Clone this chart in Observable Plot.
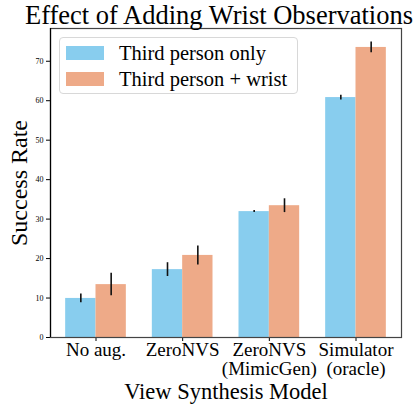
<!DOCTYPE html>
<html>
<head>
<meta charset="utf-8">
<script src="https://cdn.jsdelivr.net/npm/d3@7"></script>
<script src="https://cdn.jsdelivr.net/npm/@observablehq/plot@0.6"></script>
<style>
  body { margin: 0; background: #fff; font-family: "Liberation Serif", serif; }
  #wrap { position: relative; width: 420px; height: 404px; }
  #title { position: absolute; left: 0; top: 0; width: 420px; height: 30px; line-height: 30px; text-align: center; font-size: 26.5px; color: #000; padding-left: 18px; box-sizing: border-box; white-space: nowrap; }
  #legend { position: absolute; left: 59px; top: 37px; width: 239px; height: 57px; border: 1px solid #d8d8d8; border-radius: 4px; background: rgba(255,255,255,0.85); box-sizing: border-box; }
  .item { position: absolute; left: 6px; height: 16px; display: flex; align-items: center; }
  .sw { width: 38px; height: 14px; margin-right: 15px; }
  .lab { font-size: 20.5px; white-space: nowrap; }
</style>
</head>
<body>
<div id="wrap">
  <div id="chart"></div>
  <div id="title">Effect of Adding Wrist Observations</div>
  <div id="legend"></div>
</div>
<script>
const categories = ["No aug.", "ZeroNVS", "ZeroNVS\n(MimicGen)", "Simulator\n(oracle)"];
const series = ["Third person only", "Third person + wrist"];
const colors = ["#88CDEE", "#EEAA88"];
const thirdPerson = [9.9, 17.2, 31.9, 60.8];
const thirdPersonErr = [1.1, 1.75, 0.25, 0.6];
const withWrist = [13.4, 20.8, 33.4, 73.5];
const withWristErr = [2.85, 2.4, 1.75, 1.35];
const yTicks = [0, 10, 20, 30, 40, 50, 60, 70];

const barW = 0.35;
const data = [];
categories.forEach((c, i) => {
  data.push({i, s: 0, series: series[0], v: thirdPerson[i], e: thirdPersonErr[i]});
  data.push({i, s: 1, series: series[1], v: withWrist[i], e: withWristErr[i]});
});
data.forEach(d => {
  d.x1 = d.i + (d.s === 0 ? -barW : 0);
  d.x2 = d.i + (d.s === 0 ? 0 : barW);
  d.xm = (d.x1 + d.x2) / 2;
  d.lo = d.v - d.e;
  d.hi = d.v + d.e;
});

const plot = Plot.plot({
  width: 420,
  height: 404,
  marginLeft: 50,
  marginRight: 19,
  marginTop: 28,
  marginBottom: 67,
  style: { fontFamily: "Liberation Serif, serif", background: "#fff", color: "#000" },
  x: { type: "linear", domain: [-0.525, 3.525] },
  y: { domain: [0, 78.3] },
  color: { domain: series, range: colors },
  marks: [
    Plot.rect(data, { x1: "x1", x2: "x2", y1: 0, y2: "v", fill: "series" }),
    Plot.ruleX(data, { x: "xm", y1: "lo", y2: "hi", stroke: "#111", strokeWidth: 1.6 }),
    Plot.axisY({ ticks: yTicks, tickSize: 4, fontSize: 8, tickPadding: 3, label: null }),
    Plot.axisX({ ticks: categories.map((c, i) => i), tickFormat: i => categories[i], tickSize: 4, fontSize: 19, tickPadding: 1, label: null, lineHeight: 1.0 }),
    Plot.frame({ stroke: "#444", strokeWidth: 1.2 }),
    Plot.ruleX([-0.525], { stroke: "#000", strokeWidth: 1.2 }),
    Plot.text(["Success Rate"], { frameAnchor: "left", dx: -31, rotate: -90, textAnchor: "middle", fontSize: 24 }),
    Plot.text(["View Synthesis Model"], { frameAnchor: "bottom", dy: 54, lineAnchor: "middle", fontSize: 22.5 })
  ]
});
document.getElementById("chart").appendChild(plot);

const leg = document.getElementById("legend");
series.forEach((s, k) => {
  const it = document.createElement("div");
  it.className = "item";
  it.style.top = (7 + k * 26) + "px";
  const sw = document.createElement("div");
  sw.className = "sw";
  sw.style.background = colors[k];
  const lb = document.createElement("span");
  lb.className = "lab";
  lb.textContent = s;
  it.appendChild(sw);
  it.appendChild(lb);
  leg.appendChild(it);
});
</script>
</body>
</html>
